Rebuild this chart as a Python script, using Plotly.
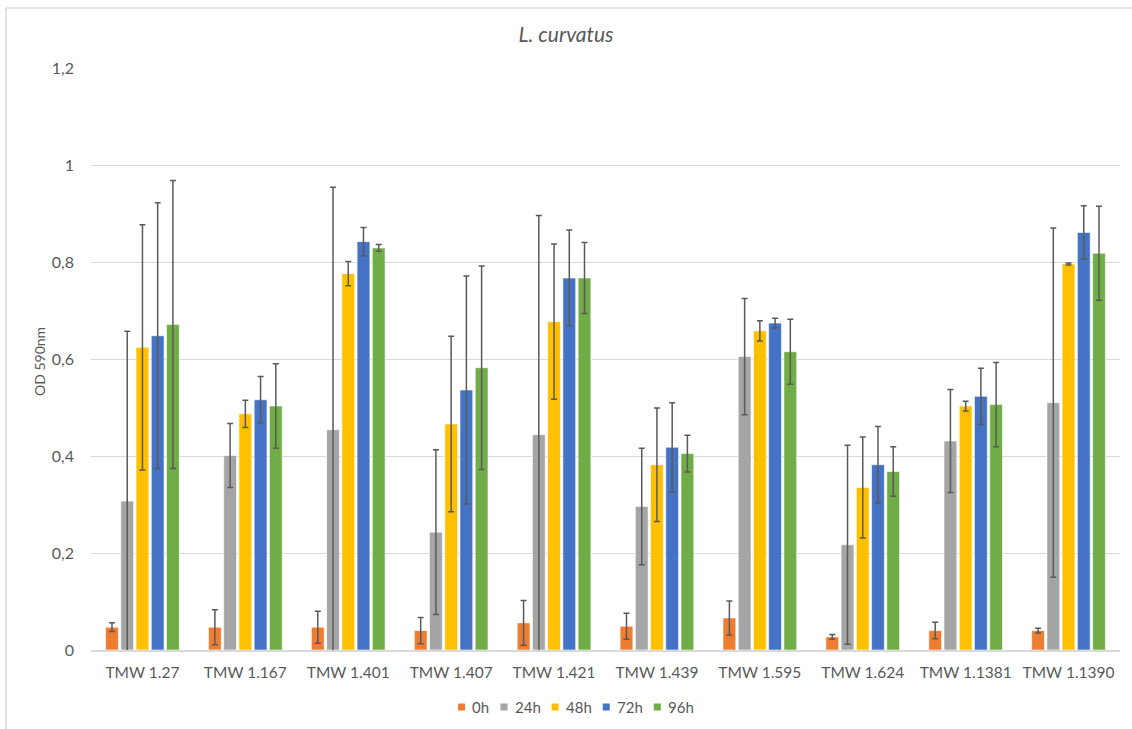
import plotly.graph_objects as go

strains = ["TMW 1.27", "TMW 1.167", "TMW 1.401", "TMW 1.407", "TMW 1.421",
           "TMW 1.439", "TMW 1.595", "TMW 1.624", "TMW 1.1381", "TMW 1.1390"]

od_0h = [0.047, 0.047, 0.047, 0.040, 0.056, 0.049, 0.066, 0.027, 0.040, 0.040]
od_24h = [0.307, 0.401, 0.454, 0.243, 0.444, 0.296, 0.605, 0.217, 0.431, 0.510]
od_48h = [0.624, 0.487, 0.776, 0.466, 0.677, 0.382, 0.658, 0.335, 0.503, 0.796]
od_72h = [0.648, 0.516, 0.842, 0.536, 0.767, 0.418, 0.674, 0.382, 0.523, 0.861]
od_96h = [0.671, 0.503, 0.829, 0.582, 0.767, 0.405, 0.615, 0.368, 0.506, 0.818]

sd_0h = [0.009, 0.036, 0.033, 0.027, 0.046, 0.027, 0.035, 0.005, 0.017, 0.005]
sd_24h = [0.350, 0.066, 0.500, 0.170, 0.452, 0.120, 0.120, 0.205, 0.106, 0.360]
sd_48h = [0.253, 0.028, 0.025, 0.181, 0.160, 0.117, 0.021, 0.104, 0.010, 0.002]
sd_72h = [0.274, 0.048, 0.029, 0.235, 0.099, 0.092, 0.010, 0.079, 0.058, 0.055]
sd_96h = [0.297, 0.087, 0.007, 0.210, 0.073, 0.038, 0.067, 0.051, 0.087, 0.097]

series = [
    ("0h", od_0h, sd_0h, "#ED7D31"),
    ("24h", od_24h, sd_24h, "#A5A5A5"),
    ("48h", od_48h, sd_48h, "#FFC000"),
    ("72h", od_72h, sd_72h, "#4472C4"),
    ("96h", od_96h, sd_96h, "#70AD47"),
]

FONT = "Lato, 'Open Sans', sans-serif"
TEXT = "#595959"

W, H = 1132, 729
ML, MR, MT, MB = 91, 12, 68, 79
PW, PH = W - ML - MR, H - MT - MB


def px_x(px):
    """Pixel column -> paper x."""
    return (px - ML) / PW


def px_y(py):
    """Pixel row (from top) -> paper y."""
    return (H - MB - py) / PH


fig = go.Figure()
for name, vals, errs, color in series:
    fig.add_trace(go.Bar(
        name=name, x=strains, y=vals,
        marker=dict(color=color, line=dict(color="white", width=0.6)),
        error_y=dict(type="data", array=errs, visible=True,
                     color="#5a5a5a", thickness=1.5, width=3),
        showlegend=False,
    ))

fig.update_layout(
    width=W, height=H,
    barmode="group", bargap=0.26, bargroupgap=0.16,
    separators=", ",
    paper_bgcolor="white", plot_bgcolor="white",
    margin=dict(l=ML, r=MR, t=MT, b=MB, autoexpand=False),
    font=dict(family=FONT, size=15, color=TEXT),
    title=dict(text="<i>L. curvatus</i>", x=0.5, xanchor="center",
               y=1 - 35 / H, yanchor="middle",
               font=dict(family=FONT, size=21, color=TEXT)),
    showlegend=False,
)

fig.update_xaxes(
    showgrid=False, showline=True, linecolor="#D9D9D9", linewidth=1.5,
    ticks="", ticklabelstandoff=8,
    tickfont=dict(family=FONT, size=15.5, color=TEXT),
)
fig.update_yaxes(
    range=[0, 1.2], dtick=0.2, tick0=0,
    showgrid=True, gridcolor="#D9D9D9", gridwidth=1.3,
    zeroline=False, showline=False, ticks="",
    ticklabelstandoff=16,
    tickfont=dict(family=FONT, size=16, color=TEXT),
)

# y-axis title
fig.add_annotation(text="OD 590nm", xref="paper", yref="paper",
                   x=px_x(39), y=px_y(362), textangle=-90,
                   showarrow=False, xanchor="center", yanchor="middle",
                   font=dict(family=FONT, size=14, color=TEXT))

# legend row: coloured square + label per series, centred under the chart
LEG_FONT = 15
CHAR_W, SQ, SQ_TXT, ITEM_GAP = 8.7, 7, 5, 13
item_widths = [SQ + SQ_TXT + CHAR_W * len(s[0]) for s in series]
total = sum(item_widths) + ITEM_GAP * (len(series) - 1)
cursor = 575 - total / 2
LEG_Y = 707
for (name, _, _, color), iw in zip(series, item_widths):
    fig.add_shape(type="rect", xref="paper", yref="paper",
                  x0=px_x(cursor), x1=px_x(cursor + SQ),
                  y0=px_y(LEG_Y + SQ / 2), y1=px_y(LEG_Y - SQ / 2),
                  fillcolor=color, line=dict(width=0))
    fig.add_annotation(text=name, xref="paper", yref="paper",
                       x=px_x(cursor + SQ + SQ_TXT), y=px_y(LEG_Y),
                       xanchor="left", yanchor="middle", showarrow=False,
                       font=dict(family=FONT, size=LEG_FONT, color=TEXT))
    cursor += iw + ITEM_GAP

# chart frame
fig.add_shape(type="line", xref="paper", yref="paper",
              x0=px_x(6), x1=px_x(W + 5), y0=px_y(8), y1=px_y(8),
              line=dict(color="#D9D9D9", width=1.5))
fig.add_shape(type="line", xref="paper", yref="paper",
              x0=px_x(6), x1=px_x(6), y0=px_y(8), y1=px_y(H + 5),
              line=dict(color="#D9D9D9", width=1.5))

fig.write_html("out.html")
